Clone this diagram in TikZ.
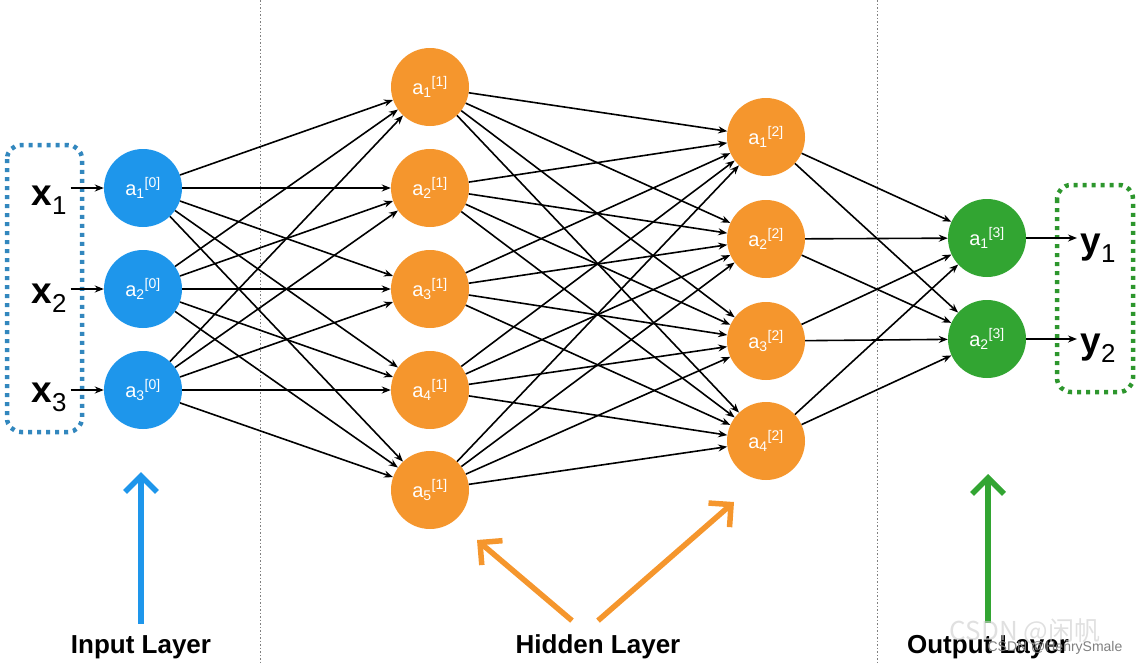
\documentclass[tikz,border=0pt]{standalone}
\usepackage{fontspec}
\setmainfont{Liberation Sans}
\newfontfamily\cjk{Noto Sans CJK SC}
\usepackage{tikz}
\usetikzlibrary{arrows,arrows.meta,shapes,positioning}
\usepackage{xcolor}
\definecolor{nnblue}{RGB}{30,150,235}
\definecolor{nnorange}{RGB}{245,150,45}
\definecolor{nngreen}{RGB}{50,165,50}
\definecolor{nnboxblue}{RGB}{50,135,190}
\definecolor{nnboxgreen}{RGB}{45,150,45}
\tikzstyle{arrow} = [-{Stealth[length=9pt,width=7pt]}, line width=1.6pt, color=black]
\tikzstyle{bigarrow} = [-{Straight Barb[length=16pt,width=32pt]}, line width=5.5pt]
\tikzstyle{neuron} = [circle, minimum size=78pt, inner sep=0pt, text=white, font=\fontsize{20}{22}\selectfont]
\tikzstyle{inputnode} = [neuron, fill=nnblue]
\tikzstyle{hiddennode} = [neuron, fill=nnorange]
\tikzstyle{outputnode} = [neuron, fill=nngreen]
\tikzstyle{varlabel} = [anchor=base west, font=\fontsize{37}{40}\selectfont]
\tikzstyle{layerlabel} = [anchor=base, font=\fontsize{26}{30}\selectfont\bfseries]
\tikzstyle{dotbox} = [line width=4.5pt, dash pattern=on 4pt off 5pt, rounded corners=14pt]
\tikzstyle{sepline} = [line width=1pt, color=gray, dash pattern=on 1.5pt off 2pt]

\begin{document}
\begin{tikzpicture}[x=1pt, y=-1pt]
\useasboundingbox (0,0) rectangle (1142,664);
% Layer separators
\draw[sepline] (260,0) -- (260,664);
\draw[sepline] (877,0) -- (877,664);

% Neurons
\foreach \i/\y in {1/188,2/289,3/390}
  \node[inputnode] (i\i) at (143,\y) {a\textsubscript{\i}\textsuperscript{[0]}};
\foreach \i/\y in {1/87,2/188,3/289,4/390,5/490}
  \node[hiddennode] (h\i) at (430,\y) {a\textsubscript{\i}\textsuperscript{[1]}};
\foreach \i/\y in {1/137,2/239,3/341,4/441}
  \node[hiddennode] (g\i) at (766,\y) {a\textsubscript{\i}\textsuperscript{[2]}};
\foreach \i/\y in {1/238,2/339}
  \node[outputnode] (o\i) at (987,\y) {a\textsubscript{\i}\textsuperscript{[3]}};

% Weights
\foreach \i in {1,2,3} \foreach \j in {1,...,5} \draw[arrow] (i\i) -- (h\j);
\foreach \i in {1,...,5} \foreach \j in {1,...,4} \draw[arrow] (h\i) -- (g\j);
\foreach \i in {1,...,4} \foreach \j in {1,2} \draw[arrow] (g\i) -- (o\j);

% Inputs and outputs
\draw[dotbox, nnboxblue] (7,145) rectangle (82,432);
\draw[dotbox, nnboxgreen] (1057,185) rectangle (1133,392);
\foreach \i/\y in {1/205,2/303,3/402} {
  \node[varlabel] (x\i) at (28,\y) {{\bfseries x}\textsubscript{\i}};
  \draw[arrow] (x\i.east |- i\i) -- (i\i);
}
\foreach \i/\y in {1/253,2/353} {
  \node[varlabel] (y\i) at (1077,\y) {{\bfseries y}\textsubscript{\i}};
  \draw[arrow] (o\i) -- (y\i.west |- o\i);
}

% Layer names
\node[layerlabel] (inlabel) at (141,653) {Input Layer};
\node[layerlabel] (hidlabel) at (598,653) {Hidden Layer};
\node[layerlabel] (outlabel) at (988,653) {Output Layer};
\coordinate (intip) at (141,472);
\coordinate (hidtipl) at (477,540);
\coordinate (hidtipr) at (734,502);
\coordinate (outtip) at (988,474);
\draw[bigarrow, nnblue] ([yshift=8pt]inlabel.north) -- (intip);
\draw[bigarrow, nnorange] ([xshift=-26pt,yshift=10pt]hidlabel.north) -- (hidtipl);
\draw[bigarrow, nnorange] ([yshift=10pt]hidlabel.north) -- (hidtipr);
\draw[bigarrow, nngreen] ([yshift=8pt]outlabel.north) -- (outtip);

% Watermarks
\node[font=\cjk\fontsize{26}{30}\selectfont, text=gray!40, opacity=0.6] (wmbig) at (1025,632) {CSDN @闲帆};
\node[font=\fontsize{14}{16}\selectfont, text=gray] (wmsmall) at (1055,648) {CSDN @HenrySmale};
\end{tikzpicture}
\end{document}
